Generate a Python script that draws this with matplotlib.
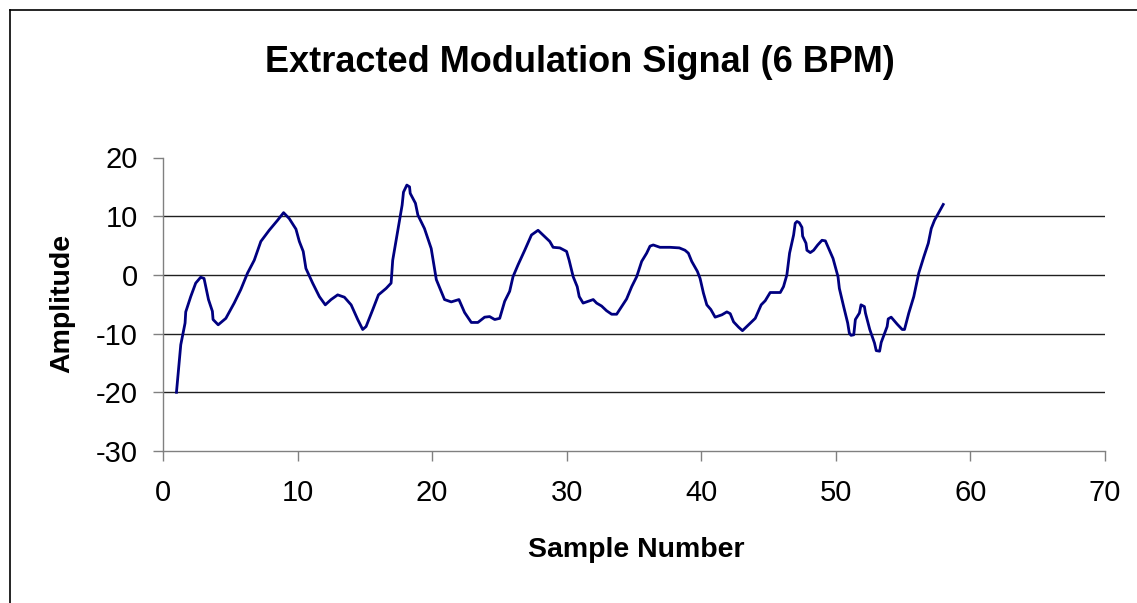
import matplotlib

matplotlib.use("Agg")
import matplotlib.pyplot as plt
from matplotlib.lines import Line2D

plt.rcParams["font.family"] = ["Liberation Sans", "DejaVu Sans"]
plt.rcParams["axes.unicode_minus"] = False

TITLE = "Extracted Modulation Signal (6 BPM)"
XLABEL = "Sample Number"
YLABEL = "Amplitude"
XTICKS = [0, 10, 20, 30, 40, 50, 60, 70]
YTICKS = [-30, -20, -10, 0, 10, 20]

sample = [
    1.0, 1.32, 1.64, 1.69, 2.06, 2.43, 2.8, 3.05, 3.38, 3.67, 3.72, 4.1, 4.67,
    5.29, 5.78, 6.28, 6.78, 7.27, 7.89, 8.51, 8.96, 9.38, 9.88, 10.13, 10.42,
    10.62, 11.12, 11.62, 12.06, 12.49, 12.98, 13.48, 13.98, 14.47, 14.84,
    15.09, 15.59, 16.01, 16.58, 16.95, 17.07, 17.45, 17.77, 17.87, 18.12,
    18.32, 18.37, 18.76, 18.94, 19.43, 19.93, 20.31, 20.92, 21.42, 21.99,
    22.41, 22.91, 23.4, 23.9, 24.27, 24.65, 25.02, 25.39, 25.76, 26.01,
    26.38, 26.88, 27.38, 27.87, 28.37, 28.74, 28.99, 29.49, 29.99, 30.18,
    30.48, 30.78, 30.93, 31.22, 31.6, 31.97, 32.22, 32.59, 32.96, 33.34,
    33.71, 34.08, 34.45, 34.83, 35.2, 35.57, 35.94, 36.19, 36.43, 36.93,
    37.68, 38.37, 38.79, 39.04, 39.29, 39.71, 39.91, 40.16, 40.41, 40.71,
    41.03, 41.53, 41.9, 42.15, 42.4, 42.77, 43.06, 43.51, 44.01, 44.45,
    44.75, 45.12, 45.87, 46.11, 46.36, 46.56, 46.86, 46.98, 47.11, 47.28,
    47.48, 47.53, 47.78, 47.85, 48.1, 48.35, 48.65, 48.97, 49.22, 49.47,
    49.79, 49.96, 50.16, 50.26, 50.58, 50.88, 51.0, 51.13, 51.33, 51.45,
    51.75, 51.87, 52.12, 52.2, 52.52, 52.87, 53.0, 53.25, 53.37, 53.81,
    53.89, 54.11, 54.56, 54.93, 55.1, 55.42, 55.79, 56.16, 56.54, 56.87,
    57.09, 57.33, 57.98,
]
amplitude = [
    -20.0, -11.9, -8.2, -6.3, -3.7, -1.4, -0.4, -0.6, -4.2, -6.2, -7.6, -8.5,
    -7.4, -4.8, -2.5, 0.3, 2.5, 5.7, 7.6, 9.3, 10.6, 9.6, 7.8, 5.7, 4.0, 1.1,
    -1.4, -3.7, -5.1, -4.2, -3.4, -3.8, -5.1, -7.6, -9.3, -8.8, -5.9, -3.4,
    -2.3, -1.4, 2.5, 7.6, 11.9, 14.1, 15.3, 15.0, 13.9, 12.2, 10.2, 7.9, 4.5,
    -0.8, -4.2, -4.6, -4.2, -6.4, -8.1, -8.1, -7.2, -7.1, -7.6, -7.4, -4.5,
    -2.8, -0.3, 1.7, 4.2, 6.8, 7.6, 6.5, 5.7, 4.7, 4.6, 4.0, 2.5, -0.3, -2.0,
    -3.7, -4.8, -4.5, -4.2, -4.8, -5.3, -6.1, -6.7, -6.7, -5.4, -4.1, -2.0,
    -0.3, 2.3, 3.7, 4.9, 5.1, 4.7, 4.7, 4.6, 4.2, 3.7, 2.3, 0.6, -0.6, -3.1,
    -5.1, -5.9, -7.2, -6.8, -6.3, -6.6, -8.0, -8.9, -9.5, -8.5, -7.4, -5.1,
    -4.4, -3.0, -3.0, -2.0, 0.0, 3.7, 6.8, 8.8, 9.1, 8.9, 8.1, 6.6, 5.4, 4.2,
    3.8, 4.2, 5.1, 5.9, 5.8, 4.5, 2.8, 1.4, -0.3, -2.3, -5.4, -8.2, -9.9,
    -10.3, -10.2, -7.6, -6.5, -5.1, -5.4, -6.5, -9.3, -11.6, -12.9, -13.0,
    -11.5, -8.8, -7.5, -7.2, -8.4, -9.3, -9.3, -6.5, -3.7, 0.3, 3.1, 5.4, 7.9,
    9.3, 12.0,
]

W, H = 1137, 603
fig = plt.figure(figsize=(W / 100, H / 100), dpi=100)
ax = fig.add_axes([163 / W, 1 - 451 / H, (1105 - 163) / W, (451 - 157.5) / H])

# chart frame (cut off at right and bottom in the reference)
fig.add_artist(Line2D([10 / W, 10 / W], [1 - 10 / H, 0], color="black", lw=1.2))
fig.add_artist(Line2D([10 / W, 1], [1 - 10 / H, 1 - 10 / H], color="black", lw=1.2))

for v in [-20, -10, 0, 10]:
    ax.axhline(v, color="#202020", lw=1.0, zorder=1)

ax.plot(sample, amplitude, color="#000080", lw=2.0, zorder=3)

ax.set_xlim(0, 70)
ax.set_ylim(-30, 20)
ax.set_xticks(XTICKS)
ax.set_yticks(YTICKS)
for s in ["top", "right"]:
    ax.spines[s].set_visible(False)
for s in ["left", "bottom"]:
    ax.spines[s].set_color("#808080")
    ax.spines[s].set_linewidth(1.0)
ax.tick_params(axis="both", direction="out", length=7, width=1.0,
               color="#808080", labelsize=21)
ax.tick_params(axis="y", pad=11)
ax.tick_params(axis="x", pad=13)

fig.text(580 / W, 1 - 62 / H, TITLE, ha="center", va="center",
         fontsize=26, fontweight="bold")
fig.text(636 / W, 1 - 550 / H, XLABEL, ha="center", va="center",
         fontsize=20.5, fontweight="bold")
fig.text(62 / W, 1 - 303 / H, YLABEL, ha="center", va="center",
         fontsize=20.5, fontweight="bold", rotation=90)

fig.savefig("out.png", dpi=100)
